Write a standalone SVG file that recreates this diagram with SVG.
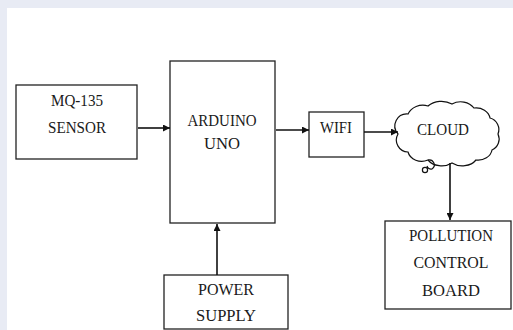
<svg xmlns="http://www.w3.org/2000/svg" width="513" height="330" viewBox="0 0 513 330">
<style>
.box{fill:#fff;stroke:#222;stroke-width:1.3}
.t{font-family:"Liberation Serif",serif;font-size:17px;fill:#1a1a1a;text-anchor:middle}
.ln{stroke:#111;stroke-width:1.6;fill:none}
.thin{stroke:#111;stroke-width:1.2;fill:none}
</style>
<defs>
<marker id="ah" viewBox="0 0 10 10" refX="10" refY="5" markerWidth="7" markerHeight="7" markerUnits="userSpaceOnUse" orient="auto">
<path d="M0,0 L10,5 L0,10 Z" fill="#111"/>
</marker>
</defs>
<rect x="0" y="0" width="513" height="330" fill="#e8ebf4"/>
<rect x="7" y="8" width="506" height="322" fill="#fff"/>
<g id="sensor">
<rect class="box" x="16" y="85" width="121" height="74"/>
<text class="t" font-family="Liberation Serif, serif" x="77" y="106" textLength="52" lengthAdjust="spacingAndGlyphs">MQ-135</text>
<text class="t" font-family="Liberation Serif, serif" x="77" y="133" textLength="58" lengthAdjust="spacingAndGlyphs">SENSOR</text>
</g>
<g id="arduino">
<rect class="box" x="170" y="61" width="105" height="162"/>
<text class="t" font-family="Liberation Serif, serif" x="222" y="126" textLength="69" lengthAdjust="spacingAndGlyphs">ARDUINO</text>
<text class="t" font-family="Liberation Serif, serif" x="222" y="149" textLength="36" lengthAdjust="spacingAndGlyphs">UNO</text>
</g>
<g id="wifi">
<rect class="box" x="309" y="112" width="55" height="45"/>
<text class="t" font-family="Liberation Serif, serif" x="336" y="133" textLength="32" lengthAdjust="spacingAndGlyphs">WIFI</text>
</g>
<g id="cloud">
<path class="thin" fill="#fff" d="M398,134 A12,12 0 0 1 408,114 A16,14 0 0 1 428,106 A18,14 0 0 1 452,104 A16,14 0 0 1 474,108 A14,12 0 0 1 490,118 A12,12 0 0 1 498,134 A12,12 0 0 1 492,150 A14,12 0 0 1 476,160 A16,12 0 0 1 452,163 A16,12 0 0 1 428,160 A14,12 0 0 1 408,152 A12,12 0 0 1 398,134 Z"/>
<path class="thin" d="M428,160 A5,5 0 0 1 432,169 A4,4 0 0 1 427,166"/>
<circle cx="425" cy="170" r="2.6" fill="#fff" stroke="#111" stroke-width="1.2"/>
<text class="t" font-family="Liberation Serif, serif" x="443" y="135" textLength="52" lengthAdjust="spacingAndGlyphs">CLOUD</text>
</g>
<g id="pollution">
<rect class="box" x="385" y="221" width="126" height="88"/>
<text class="t" font-family="Liberation Serif, serif" x="451" y="241" textLength="84" lengthAdjust="spacingAndGlyphs">POLLUTION</text>
<text class="t" font-family="Liberation Serif, serif" x="451" y="268" textLength="75" lengthAdjust="spacingAndGlyphs">CONTROL</text>
<text class="t" font-family="Liberation Serif, serif" x="451" y="296" textLength="58" lengthAdjust="spacingAndGlyphs">BOARD</text>
</g>
<g id="power">
<rect class="box" x="164" y="275" width="124" height="54"/>
<text class="t" font-family="Liberation Serif, serif" x="226" y="295" textLength="56" lengthAdjust="spacingAndGlyphs">POWER</text>
<text class="t" font-family="Liberation Serif, serif" x="226" y="321" textLength="60" lengthAdjust="spacingAndGlyphs">SUPPLY</text>
</g>
<g id="connectors">
<line class="ln" x1="138" y1="128" x2="170" y2="128" marker-end="url(#ah)"/>
<line class="ln" x1="276" y1="130" x2="309" y2="130" marker-end="url(#ah)"/>
<line class="ln" x1="364" y1="132" x2="398" y2="132" marker-end="url(#ah)"/>
<line class="ln" x1="450" y1="163" x2="450" y2="220" marker-end="url(#ah)"/>
<line class="ln" x1="217" y1="275" x2="217" y2="224" marker-end="url(#ah)"/>
</g>
</svg>
